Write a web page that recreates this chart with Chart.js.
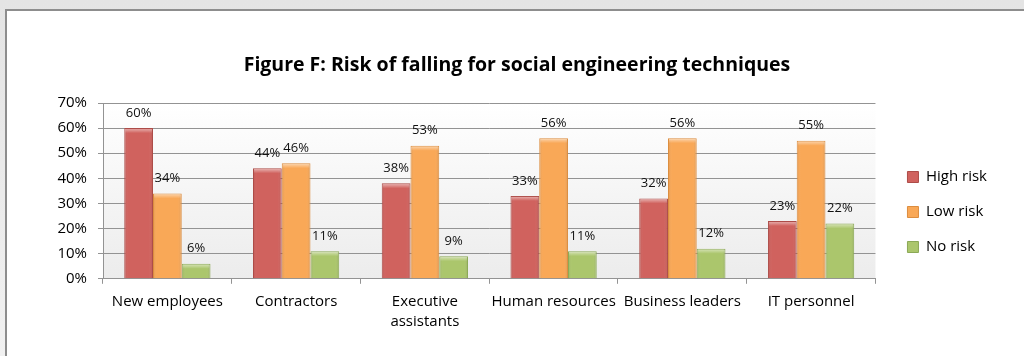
<!DOCTYPE html>
<html>
<head>
<meta charset="utf-8">
<title>Figure F</title>
<script src="https://cdn.jsdelivr.net/npm/chart.js@4/dist/chart.umd.min.js"></script>
<style>
  html, body { margin: 0; padding: 0; overflow: hidden; }
  body { width: 1024px; height: 356px; position: relative;
         background: linear-gradient(#e4e4e4, #f1f1f1); }
  /* white sheet with the grey frame on its top and left edges */
  #sheet { position: absolute; left: 5px; top: 9px; width: 1019px; height: 347px; background: #fff;
           border-left: 2px solid #8d8d8d; border-top: 2px solid #8d8d8d; }
  #graph { position: absolute; left: 0; top: 0; }
</style>
</head>
<body>
<div id="sheet"></div>
<canvas id="graph" width="1024" height="356"></canvas>
<script>
// categories (multi-line label wraps like the sheet does)
const categories = [
    'New employees',
    'Contractors',
    ['Executive', 'assistants'],
    'Human resources',
    'Business leaders',
    'IT personnel'
];

// percentages per group
const highRisk = [60, 44, 38, 33, 32, 23];
const lowRisk  = [34, 46, 53, 56, 56, 55];
const noRisk   = [6, 11, 9, 11, 12, 22];

const yTicks = [0, 10, 20, 30, 40, 50, 60, 70];

const FONT = "'Open Sans', 'DejaVu Sans', sans-serif";
const gridGrey = '#939393';

// light grey wash behind the plot
const plotBackground = {
    id: 'plotBackground',
    beforeDatasetsDraw(chart) {
        const {ctx, chartArea: a} = chart;
        const g = ctx.createLinearGradient(0, a.top, 0, a.bottom);
        g.addColorStop(0, '#ffffff');
        g.addColorStop(1, '#ececec');
        ctx.save();
        ctx.globalCompositeOperation = 'destination-over';
        ctx.fillStyle = g;
        ctx.fillRect(a.left, a.top, a.right - a.left, a.bottom - a.top);
        ctx.restore();
    }
};

// bevel look on each bar + the % label above it
const barDecor = {
    id: 'barDecor',
    afterDatasetsDraw(chart) {
        const {ctx} = chart;
        chart.data.datasets.forEach((ds, i) => {
            const meta = chart.getDatasetMeta(i);
            meta.data.forEach((bar, j) => {
                const {x, y, base, width} = bar.getProps(['x', 'y', 'base', 'width'], true);
                const l = x - width / 2;
                ctx.save();
                // side shading
                const h = ctx.createLinearGradient(l, 0, l + width, 0);
                h.addColorStop(0, 'rgba(0,0,0,0.10)');
                h.addColorStop(0.15, 'rgba(255,255,255,0.0)');
                h.addColorStop(0.85, 'rgba(255,255,255,0.0)');
                h.addColorStop(1, 'rgba(0,0,0,0.12)');
                ctx.fillStyle = h;
                ctx.fillRect(l + 1, y + 1, width - 2, base - y - 1);
                // top highlight
                const t = ctx.createLinearGradient(0, y, 0, y + 5);
                t.addColorStop(0, 'rgba(255,255,255,0.55)');
                t.addColorStop(1, 'rgba(255,255,255,0)');
                ctx.fillStyle = t;
                ctx.fillRect(l + 1, y + 1, width - 2, Math.min(5, base - y - 1));
                ctx.restore();

                ctx.save();
                ctx.font = '13px ' + FONT;
                ctx.fillStyle = '#111';
                ctx.textAlign = 'center';
                ctx.textBaseline = 'middle';
                ctx.fillText(ds.data[j] + '%', x, y - 15);
                ctx.restore();
            });
        });
    }
};

const data = {
    labels: categories,
    datasets: [
        {
            label: 'High risk',
            data: highRisk,
            backgroundColor: '#d0625e',
            borderColor: '#ad4c48',
            borderWidth: 1
        },
        {
            label: 'Low risk',
            data: lowRisk,
            backgroundColor: '#f9a857',
            borderColor: '#dc8d3f',
            borderWidth: 1
        },
        {
            label: 'No risk',
            data: noRisk,
            backgroundColor: '#abc66c',
            borderColor: '#8ba956',
            borderWidth: 1
        }
    ]
};

const config = {
    type: 'bar',
    data: data,
    options: {
        responsive: false,
        animation: false,
        barPercentage: 1.0,
        categoryPercentage: 0.67,
        layout: {padding: {top: 10, left: 37, right: 27, bottom: 16}},
        plugins: {
            title: {
                display: true,
                text: 'Figure F: Risk of falling for social engineering techniques',
                color: '#000',
                font: {family: FONT, size: 19.5, weight: 'bold'},
                padding: {top: 44, bottom: 25.6}
            },
            legend: {
                position: 'right',
                // blank title only pushes the keys down next to the bars
                title: {display: true, text: ' ', font: {size: 10, lineHeight: 1}, padding: {top: 64, bottom: 0}},
                labels: {
                    color: '#000',
                    font: {family: FONT, size: 15},
                    boxWidth: 11,
                    boxHeight: 11,
                    padding: 20
                }
            },
            tooltip: {enabled: false}
        },
        scales: {
            x: {
                grid: {display: true, drawOnChartArea: false, color: gridGrey, tickLength: 5, offset: true},
                border: {color: gridGrey},
                ticks: {color: '#000', font: {family: FONT, size: 15, lineHeight: 1.34}, padding: 8, maxRotation: 0, autoSkip: false}
            },
            y: {
                min: 0,
                max: 70,
                afterBuildTicks(scale) { scale.ticks = yTicks.map(v => ({value: v})); },
                grid: {color: gridGrey, tickLength: 5},
                border: {color: gridGrey},
                ticks: {color: '#000', font: {family: FONT, size: 15}, padding: 11, callback: v => v + '%'},
                afterFit(scale) { scale.width = 66; }
            },
            // empty axis that just keeps a gap before the legend
            gap: {
                position: 'right',
                type: 'linear',
                display: true,
                grid: {display: false},
                border: {display: false},
                ticks: {display: false},
                afterFit(scale) { scale.width = 12; }
            }
        }
    },
    plugins: [plotBackground, barDecor]
};

const graph = new Chart(document.getElementById('graph'), config);
</script>
</body>
</html>
